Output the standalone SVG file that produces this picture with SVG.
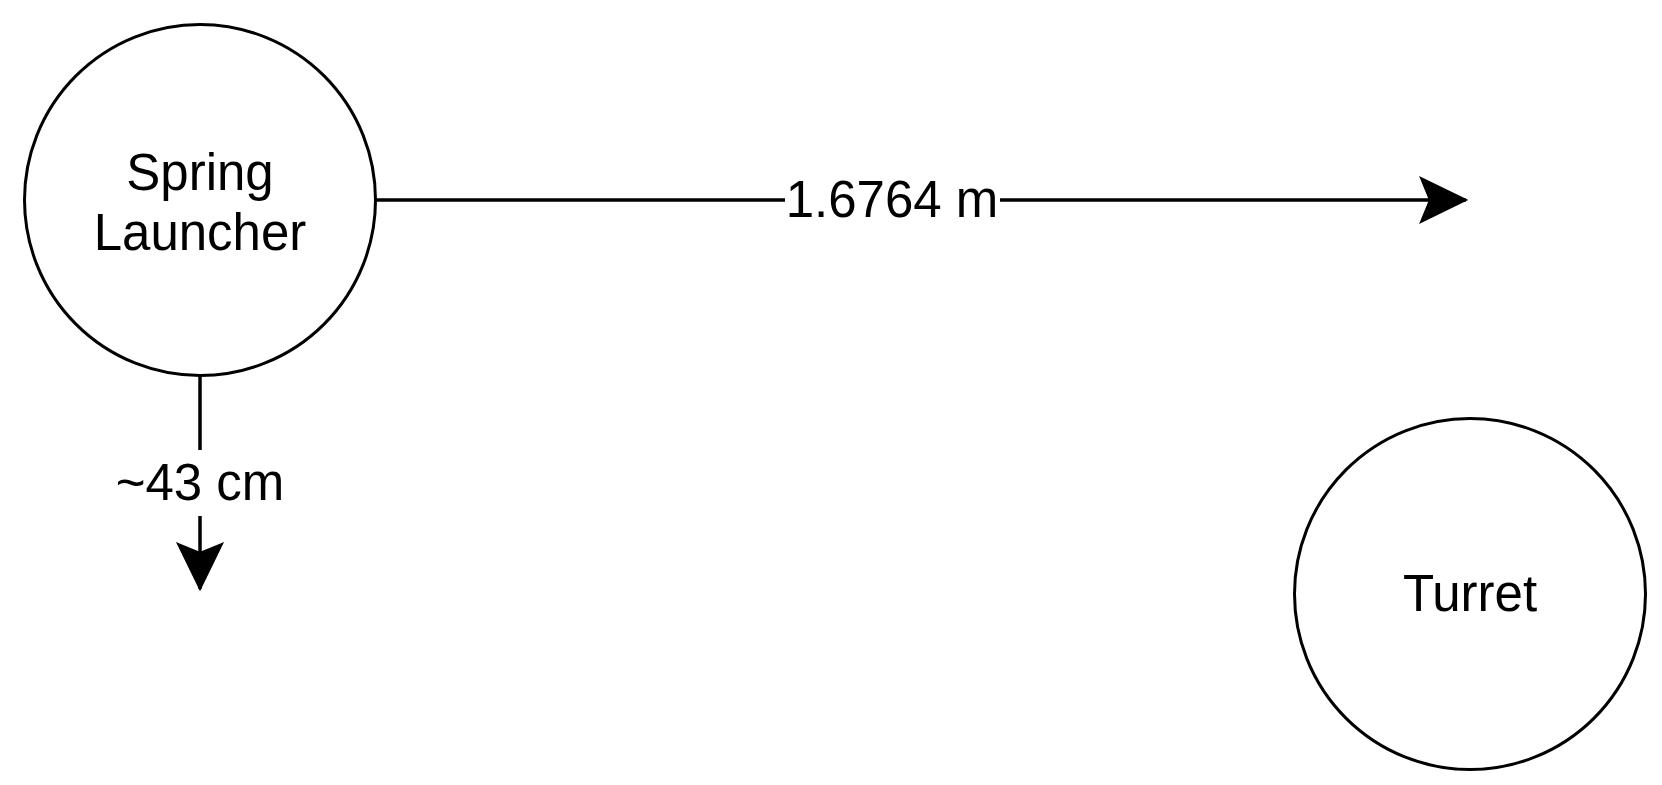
<svg xmlns="http://www.w3.org/2000/svg" width="1662" height="785" viewBox="0 0 1662 785">
<style>
.node{fill:#ffffff;stroke:#000000;stroke-width:3}
.edge{fill:none;stroke:#000000;stroke-width:3.5}
.lbl{font-family:"Liberation Sans",Arial,sans-serif;font-size:51px;fill:#000000;text-anchor:middle}
.bg{fill:#ffffff}
</style>
<defs>
<marker id="arrow" markerUnits="userSpaceOnUse" markerWidth="50" markerHeight="50" viewBox="-47 -25 50 50" refX="0" refY="0" orient="auto">
<path d="M0,0 L-45,-22 L-36,0 L-45,22 Z" fill="#000000" stroke="#000000" stroke-width="2" stroke-linejoin="miter"/>
</marker>
</defs>
<rect width="1662" height="785" fill="#ffffff"/>
<g id="connectors">
<g id="edge-horizontal">
<line class="edge" x1="376" y1="200" x2="1466" y2="200" marker-end="url(#arrow)"/>
<rect class="bg" x="785" y="172" width="215" height="56"/>
<text class="lbl" x="892" y="217">1.6764 m</text>
</g>
<g id="edge-vertical">
<line class="edge" x1="200" y1="376" x2="200" y2="589" marker-end="url(#arrow)"/>
<rect class="bg" x="112" y="450" width="176" height="66"/>
<text class="lbl" x="200" y="500">~43 cm</text>
</g>
</g>
<g id="spring-launcher">
<circle class="node" cx="200" cy="200" r="175.5"/>
<text class="lbl" x="200" y="190">Spring</text>
<text class="lbl" x="200" y="250">Launcher</text>
</g>
<g id="turret">
<circle class="node" cx="1470" cy="594" r="175.5"/>
<text class="lbl" x="1470" y="611">Turret</text>
</g>
</svg>
